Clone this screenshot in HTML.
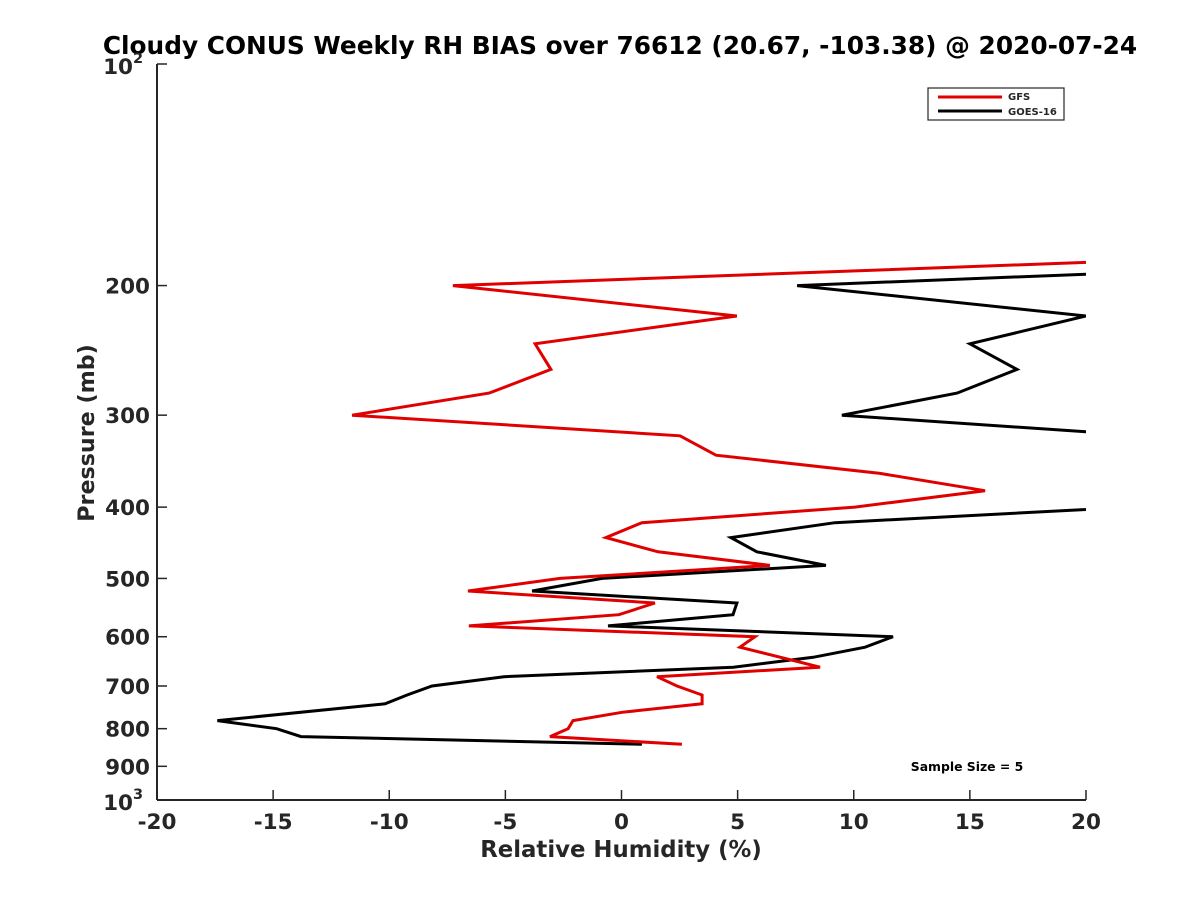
<!DOCTYPE html>
<html><head><meta charset="utf-8"><style>
html,body{margin:0;padding:0;background:#fff;}
svg text{font-family:"DejaVu Sans","Liberation Sans",sans-serif;font-weight:bold;fill:#262626;}
</style></head><body>
<svg id="chart" width="1200" height="900" viewBox="0 0 1200 900" xmlns="http://www.w3.org/2000/svg">
<rect width="1200" height="900" fill="#fff"/>
<text x="620" y="54" font-size="24.8" text-anchor="middle" style="fill:#000">Cloudy CONUS Weekly RH BIAS over 76612 (20.67, -103.38) @ 2020-07-24</text>
<defs><clipPath id="plotclip"><rect x="157" y="64" width="929" height="736"/></clipPath></defs>
<g id="axes"></g>
<g id="series" clip-path="url(#plotclip)"></g>
<text x="621" y="857" font-size="22.8" text-anchor="middle">Relative Humidity (%)</text>
<text transform="translate(94,433) rotate(-90)" font-size="22.2" text-anchor="middle">Pressure (mb)</text>
<g>
<rect x="928" y="88" width="136" height="32" fill="#fff" stroke="#262626" stroke-width="1.2"/>
<line x1="938" y1="97" x2="1002" y2="97" stroke="#e00000" stroke-width="3"/>
<text x="1008" y="100" font-size="10">GFS</text>
<line x1="938" y1="111" x2="1002" y2="111" stroke="#000" stroke-width="3"/>
<text x="1008" y="115" font-size="10">GOES-16</text>
</g>
<text x="967" y="771" font-size="12.4" text-anchor="middle" style="fill:#000">Sample Size = 5</text>
</svg>
<script>
const xTicks=[-20,-15,-10,-5,0,5,10,15,20];
const yTicks=[200,300,400,500,600,700,800,900];
const gfsP=[186,200,220,240,260,280,300,320,340,360,380,400,420,440,460,480,500,520,540,560,580,600,620,660,680,700,720,740,760,780,800,820,840];
const gfsV=[20,-7.26,4.97,-3.72,-3.04,-5.70,-11.6,2.52,4.07,11.13,15.65,10.05,0.88,-0.67,1.57,6.39,-2.65,-6.61,1.44,-0.11,-6.57,5.75,5.1,8.55,1.53,2.39,3.47,3.47,0.02,-2.09,-2.30,-3.08,2.60];
const goesP=[193,200,220,240,260,280,300,316,340,360,380,403,420,440,460,480,500,520,540,560,580,600,620,640,660,680,700,720,740,780,800,820,840];
const goesV=[20,7.56,20,15.0,17.03,14.45,9.49,20,30,30,30,20,9.19,4.71,5.83,8.80,-0.84,-3.85,4.97,4.80,-0.58,11.69,10.49,8.25,4.82,-5.06,-8.16,-9.23,-10.18,-17.4,-14.85,-13.8,0.88];
const L=157,R=1086,T=64,B=800;
function xs(v){return L+(v+20)/40*(R-L);}
function ys(p){return T+(Math.log10(p)-2)*(B-T);}
const NS="http://www.w3.org/2000/svg";
const axes=document.getElementById('axes');
function mk(tag,attrs,parent){const e=document.createElementNS(NS,tag);for(const k in attrs)e.setAttribute(k,attrs[k]);parent.appendChild(e);return e;}
let e=mk('line',{x1:L,y1:T,x2:L,y2:B,stroke:'#262626','stroke-width':2},axes);


e=mk('line',{x1:L,y1:B,x2:R,y2:B,stroke:'#262626','stroke-width':2},axes);


xTicks.forEach(v=>{
 const x=xs(v);
 const t=mk('line',{x1:x,y1:B,x2:x,y2:B-10,stroke:'#262626','stroke-width':1.5},axes);
 
 
 const tx=mk('text',{x:x,y:B+29,'font-size':21.5,'text-anchor':'middle'},axes);
 tx.textContent=String(v);
 
 
});
[100,...yTicks,1000].forEach(p=>{
 const y=ys(p);
 const t=mk('line',{x1:L,y1:y,x2:L+10,y2:y,stroke:'#262626','stroke-width':1.5},axes);
 
 
 const tx=mk('text',{x:L-7,y:y+8,'font-size':21.5,'text-anchor':'end'},axes);
 
 
 if(p===100||p===1000){
   tx.setAttribute('x',L-24);
   tx.setAttribute('y',y+10);
   tx.textContent='10';
   const s=mk('text',{x:L-24,y:y-1,'font-size':14.5,'text-anchor':'start'},axes);
   s.textContent=p===100?'2':'3';
   
   
 } else tx.textContent=p;
});
const series=document.getElementById('series');
function draw(P,V,color,name){
 const pts=P.map((p,i)=>xs(V[i]).toFixed(1)+','+ys(p).toFixed(1)).join(' ');
 const pl=mk('polyline',{points:pts,fill:'none',stroke:color,'stroke-width':3,'stroke-linejoin':'miter'},series);
 
 
}
draw(goesP,goesV,'#000','goes16-line');
draw(gfsP,gfsV,'#e00000','gfs-line');
</script>
</body></html>
